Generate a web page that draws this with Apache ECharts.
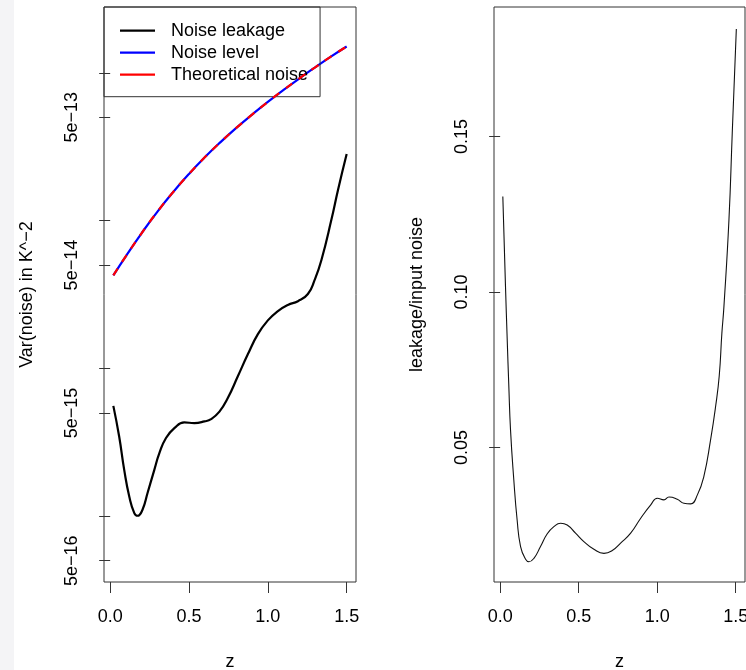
<!DOCTYPE html>
<html><head><meta charset="utf-8">
<script src="https://cdn.jsdelivr.net/npm/echarts@6/dist/echarts.min.js"></script>
<style>html,body{margin:0;padding:0;background:#fff}#c{width:746px;height:670px}</style>
</head><body><div id="c"></div>
<script>
// ---- data ----
const zNoise = [0.02,0.1,0.2,0.3,0.4,0.5,0.6,0.7,0.8,0.9,1.0,1.1,1.2,1.3,1.4,1.5];
const noiseLevel = [4.266e-14,5.754e-14,8.241e-14,1.151e-13,1.563e-13,2.070e-13,2.679e-13,3.396e-13,4.236e-13,5.212e-13,6.353e-13,7.656e-13,9.162e-13,1.089e-12,1.288e-12,1.507e-12];
const theoreticalNoise = [4.266e-14,5.754e-14,8.241e-14,1.151e-13,1.563e-13,2.070e-13,2.679e-13,3.396e-13,4.236e-13,5.212e-13,6.353e-13,7.656e-13,9.162e-13,1.089e-12,1.288e-12,1.507e-12];
const zLeak = [0.02,0.057,0.089,0.121,0.153,0.174,0.205,0.237,0.280,0.312,0.354,0.407,0.470,0.534,0.598,0.640,0.693,0.746,0.809,0.873,0.936,1.000,1.064,1.127,1.191,1.254,1.297,1.340,1.403,1.445,1.5];
const noiseLeakage = [5.58e-15,3.46e-15,2.06e-15,1.36e-15,1.05e-15,1.007e-15,1.107e-15,1.436e-15,2.06e-15,2.67e-15,3.38e-15,3.94e-15,4.31e-15,4.27e-15,4.38e-15,4.54e-15,5.10e-15,6.30e-15,8.81e-15,1.245e-14,1.698e-14,2.113e-14,2.443e-14,2.69e-14,2.851e-14,3.19e-14,3.97e-14,5.42e-14,1.012e-13,1.611e-13,2.82e-13];
const zRatio = [0.017,0.034,0.045,0.055,0.066,0.087,0.108,0.130,0.162,0.183,0.215,0.257,0.300,0.342,0.385,0.427,0.480,0.533,0.597,0.661,0.714,0.767,0.831,0.895,0.959,1.001,1.043,1.075,1.128,1.170,1.213,1.256,1.297,1.340,1.372,1.395,1.412,1.425,1.457,1.478,1.504];
const leakageRatio = [0.1307,0.1018,0.0846,0.0700,0.0557,0.0396,0.0268,0.0182,0.0141,0.0133,0.0144,0.0182,0.0223,0.0246,0.0257,0.0251,0.0225,0.0198,0.0173,0.0160,0.0169,0.0193,0.0225,0.0273,0.0316,0.0337,0.0332,0.0341,0.0334,0.0321,0.0319,0.0348,0.0407,0.0525,0.0632,0.0730,0.0868,0.0953,0.1232,0.1511,0.1845];

const xTickValues = [0, 0.5, 1.0, 1.5];
const xTickLabels = ['0.0', '0.5', '1.0', '1.5'];
const leftYTickValues = [5e-16,1e-15,5e-15,1e-14,5e-14,1e-13,5e-13,1e-12];
const leftYLabelValues = [5e-16,5e-15,5e-14,5e-13];
const leftYLabels = ['5e\u221216','5e\u221215','5e\u221214','5e\u221213'];
const rightYTickValues = [0.05, 0.10, 0.15];
const rightYLabels = ['0.05', '0.10', '0.15'];

// ---- chart ----
const FONT = '"Liberation Sans", Arial, Helvetica, sans-serif';
const pairs = (xs, ys) => xs.map((x, i) => [x, ys[i]]);
const near = (arr, v, tol) => arr.findIndex(t => Math.abs(t - v) <= tol * Math.abs(t));

const chart = echarts.init(document.getElementById('c'), null, {renderer: 'canvas'});
const xAxisBase = {
  type: 'value', min: -0.0392, max: 1.5592,
  name: 'z', nameLocation: 'middle', nameGap: 71,
  nameTextStyle: {fontSize: 18, color: '#000', fontFamily: FONT},
  axisLine: {show: false},
  axisTick: {show: true, inside: false, length: 11, customValues: xTickValues, lineStyle: {color: '#333', width: 1}},
  axisLabel: {customValues: xTickValues, margin: 26, fontSize: 18, color: '#000', fontFamily: FONT,
    formatter: v => { const i = xTickValues.findIndex(t => Math.abs(t - v) < 1e-6); return i >= 0 ? xTickLabels[i] : ''; }},
  splitLine: {show: false}
};
chart.setOption({
  animation: false,
  backgroundColor: '#ffffff',
  textStyle: {fontFamily: FONT},
  graphic: [{type: 'rect', shape: {x: 0, y: 0, width: 14, height: 670}, style: {fill: '#f4f4f6'}, z: -10, silent: true}],
  grid: [
    {left: 104, top: 7, width: 252, height: 575, show: true, borderColor: '#333', borderWidth: 1, backgroundColor: 'transparent', containLabel: false, outerBoundsMode: 'none'},
    {left: 494, top: 7, width: 251, height: 575, show: true, borderColor: '#333', borderWidth: 1, backgroundColor: 'transparent', containLabel: false, outerBoundsMode: 'none'}
  ],
  legend: {
    left: 104, top: 7, orient: 'vertical',
    padding: [14.7, 12, 13, 16], itemGap: 4,
    itemWidth: 35, itemHeight: 2.2, icon: 'rect',
    borderColor: '#333', borderWidth: 1, backgroundColor: 'transparent',
    textStyle: {fontSize: 18, color: '#000', fontFamily: FONT, lineHeight: 18, padding: [0, 0, 0, 11]},
    data: ['Noise leakage', 'Noise level', 'Theoretical noise']
  },
  xAxis: [
    Object.assign({gridIndex: 0}, xAxisBase),
    Object.assign({gridIndex: 1}, xAxisBase)
  ],
  yAxis: [
    {gridIndex: 0, type: 'log', logBase: 10, min: 3.589e-16, max: 2.787e-12,
     name: 'Var(noise) in K^\u22122', nameLocation: 'middle', nameRotate: 90, nameGap: 68,
     nameTextStyle: {fontSize: 18, color: '#000', fontFamily: FONT},
     axisLine: {show: false},
     axisTick: {show: true, inside: false, length: 11, customValues: leftYTickValues, lineStyle: {color: '#333', width: 1}},
     axisLabel: {customValues: leftYLabelValues, rotate: 90, margin: 23, fontSize: 18, color: '#000', fontFamily: FONT,
       formatter: v => { const i = near(leftYLabelValues, v, 0.02); return i >= 0 ? leftYLabels[i] : ''; }},
     splitLine: {show: false}, minorTick: {show: false}},
    {gridIndex: 1, type: 'value', min: 0.0068, max: 0.1916,
     name: 'leakage/input noise', nameLocation: 'middle', nameRotate: 90, nameGap: 68,
     nameTextStyle: {fontSize: 18, color: '#000', fontFamily: FONT},
     axisLine: {show: false},
     axisTick: {show: true, inside: false, length: 11, customValues: rightYTickValues, lineStyle: {color: '#333', width: 1}},
     axisLabel: {customValues: rightYTickValues, rotate: 90, margin: 23, fontSize: 18, color: '#000', fontFamily: FONT,
       formatter: v => { const i = near(rightYTickValues, v, 0.001); return i >= 0 ? rightYLabels[i] : ''; }},
     splitLine: {show: false}}
  ],
  series: [
    {name: 'Noise leakage', type: 'line', xAxisIndex: 0, yAxisIndex: 0, data: pairs(zLeak, noiseLeakage),
     symbol: 'none', smooth: 0.5, color: '#000000', lineStyle: {color: '#000000', width: 2.2}, z: 3},
    {name: 'Noise level', type: 'line', xAxisIndex: 0, yAxisIndex: 0, data: pairs(zNoise, noiseLevel),
     symbol: 'none', smooth: 0.5, color: '#0000ff', lineStyle: {color: '#0000ff', width: 2.2}, z: 3},
    {name: 'Theoretical noise', type: 'line', xAxisIndex: 0, yAxisIndex: 0, data: pairs(zNoise, theoreticalNoise),
     symbol: 'none', smooth: 0.5, color: '#ff0000', lineStyle: {color: '#ff0000', width: 2.2, type: [8, 8]}, z: 4},
    {name: 'ratio', type: 'line', xAxisIndex: 1, yAxisIndex: 1, data: pairs(zRatio, leakageRatio),
     symbol: 'none', smooth: 0.5, color: '#000000', lineStyle: {color: '#111111', width: 1.1}, z: 3}
  ]
});
</script></body></html>
